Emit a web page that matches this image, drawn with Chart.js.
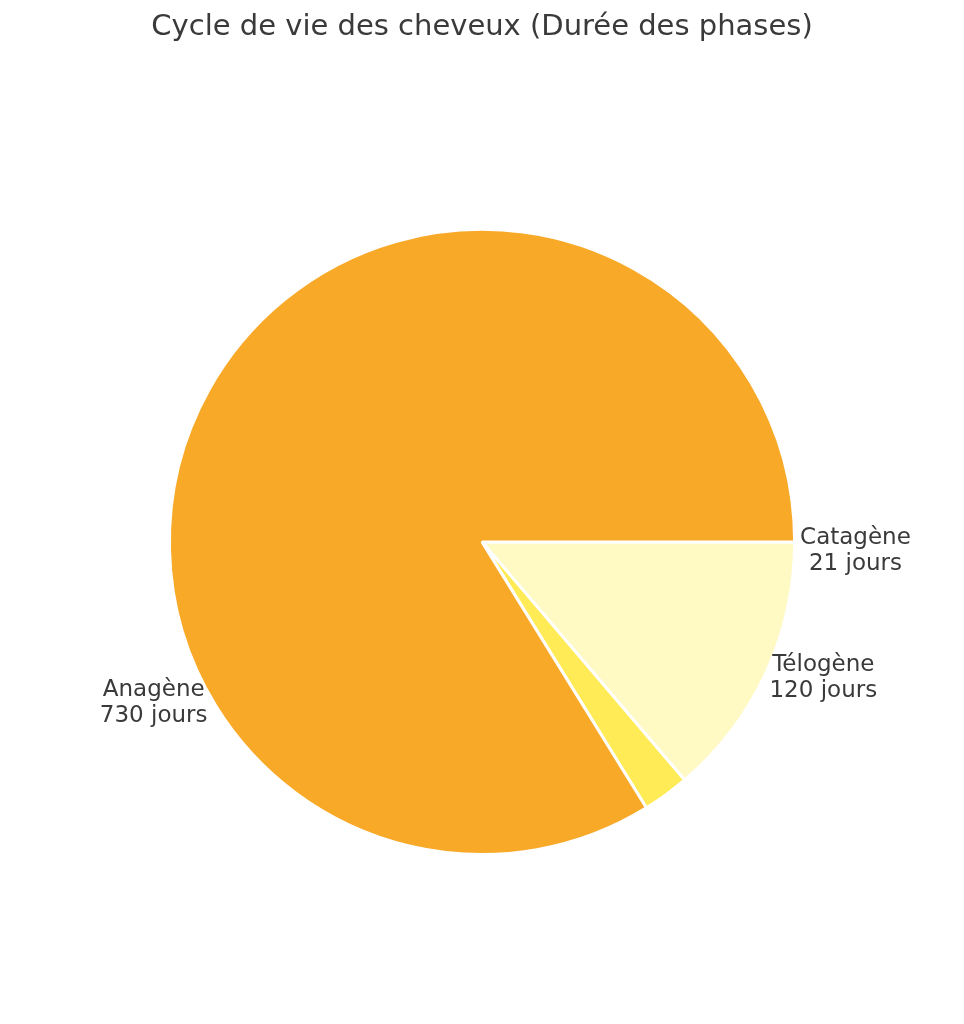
<!DOCTYPE html>
<html lang="fr">
<head>
<meta charset="utf-8">
<title>Cycle de vie des cheveux</title>
<script src="https://cdn.jsdelivr.net/npm/chart.js@4"></script>
<style>
  html, body { margin: 0; padding: 0; background: #fff; }
  #wrap { width: 964px; height: 1024px; }
</style>
</head>
<body>
<div id="wrap"><canvas id="myChart" width="964" height="1024"></canvas></div>
<script>
// Données du graphique
const categories = ['Anagène', 'Catagène', 'Télogène'];
const durations = [730, 21, 120];
const unit = 'jours';

// Couleurs des phases (même ordre que categories)
const colors = ['#F8A928', '#FFEB55', '#FFF9C4'];

// Emplacement des étiquettes : angle (degrés, sens horaire depuis 3h)
const labelAngles = [149.6, 1.6, 25.4];
const labelDistance = 1.018;

// Chart.js dessine dans le sens horaire : on inverse pour retrouver le sens antihoraire
const order = [2, 1, 0];

const textColor = '#3a3a3a';
const fontFamily = '"DejaVu Sans", sans-serif';

// Plugin pour les étiquettes autour du camembert
const pieLabels = {
    id: 'pieLabels',
    afterDatasetsDraw(chart) {
        const arc = chart.getDatasetMeta(0).data[0];
        if (!arc) return;
        const { x, y, outerRadius } = arc.getProps(['x', 'y', 'outerRadius'], true);
        const c = chart.ctx;
        const lineH = 26;
        c.save();
        c.font = '23px ' + fontFamily;
        c.fillStyle = textColor;
        c.textAlign = 'center';
        c.textBaseline = 'middle';
        categories.forEach((name, i) => {
            const lines = [name, durations[i] + ' ' + unit];
            const w = Math.max(...lines.map(l => c.measureText(l).width));
            const a = labelAngles[i] * Math.PI / 180;
            const px = x + Math.cos(a) * outerRadius * labelDistance;
            const py = y + Math.sin(a) * outerRadius * labelDistance;
            const cx = Math.cos(a) >= 0 ? px + w / 2 : px - w / 2;
            const top = py - (lines.length - 1) * lineH / 2;
            lines.forEach((l, k) => c.fillText(l, cx, top + k * lineH));
        });
        c.restore();
    }
};

const ctx = document.getElementById('myChart').getContext('2d');
const myChart = new Chart(ctx, {
    type: 'pie',
    data: {
        labels: order.map(i => categories[i]),
        datasets: [{
            data: order.map(i => durations[i]),
            backgroundColor: order.map(i => colors[i]),
            borderColor: '#ffffff',
            borderWidth: 3
        }]
    },
    options: {
        responsive: false,
        animation: false,
        rotation: 90,
        layout: {
            padding: { top: 0, bottom: 168, left: 0, right: 0 }
        },
        plugins: {
            legend: { display: false },
            tooltip: { enabled: false },
            title: {
                display: true,
                text: 'Cycle de vie des cheveux (Durée des phases)',
                color: textColor,
                font: { family: fontFamily, size: 29, weight: 'normal' },
                padding: { top: 10, bottom: 183 }
            }
        }
    },
    plugins: [pieLabels]
});
</script>
</body>
</html>
